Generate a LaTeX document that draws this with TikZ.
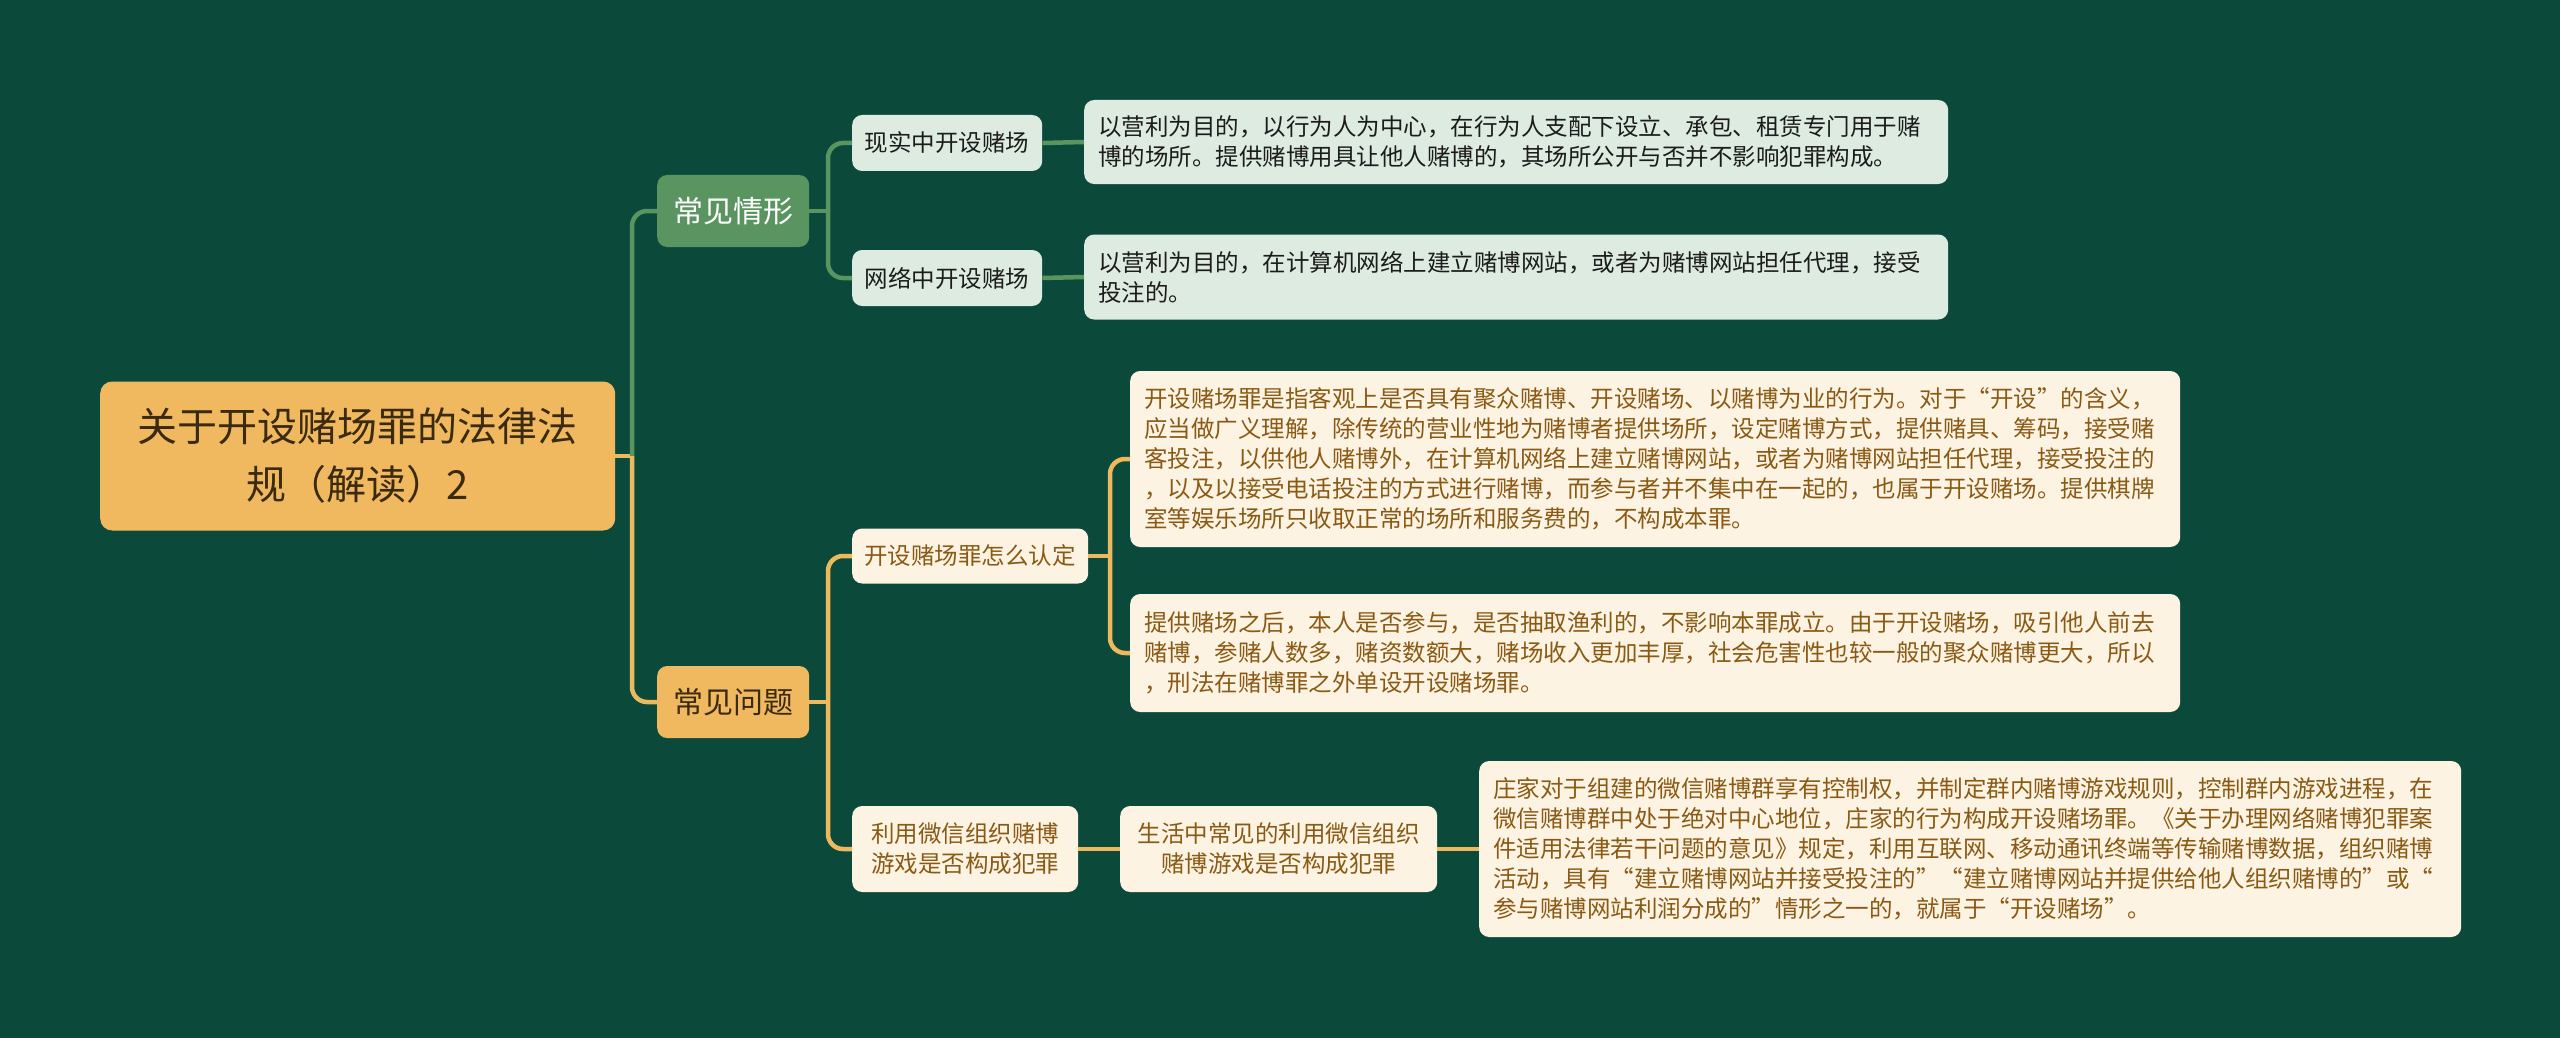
\documentclass[tikz,border=0pt]{standalone}
\usepackage{fontspec}
\newfontfamily\cjk{Noto Sans CJK SC}
\usetikzlibrary{positioning,calc}
\definecolor{bgdark}{HTML}{0B4A3B}
\definecolor{rootfill}{HTML}{F0B95F}
\definecolor{rootink}{HTML}{3A2A10}
\definecolor{greenfill}{HTML}{5A9460}
\definecolor{greenpale}{HTML}{DDEBE0}
\definecolor{greenink}{HTML}{1C1C1C}
\definecolor{creamfill}{HTML}{FCF3E3}
\definecolor{brownink}{HTML}{8A5A14}
\definecolor{goldline}{HTML}{EDB95E}
\tikzset{
  box/.style={anchor=west, rounded corners=10pt, inner sep=0pt},
  rootbox/.style={box, rounded corners=12pt, fill=rootfill, text=rootink,
    align=center, minimum width=515pt, minimum height=149pt,
    font=\cjk\fontsize{40}{58}\selectfont},
  % second level
  greentopic/.style={box, fill=greenfill, text=white, minimum width=152pt,
    minimum height=72pt, font=\cjk\fontsize{30}{36}\selectfont},
  goldtopic/.style={box, fill=rootfill, text=rootink, minimum width=152pt,
    minimum height=72pt, font=\cjk\fontsize{30}{36}\selectfont},
  % third level and leaves
  greenleaf/.style={box, fill=greenpale, text=greenink, align=center,
    font=\cjk\fontsize{23.5}{30}\selectfont},
  goldleaf/.style={box, fill=creamfill, text=brownink, align=center,
    font=\cjk\fontsize{23.5}{30}\selectfont},
  greentext/.style={greenleaf, align=left, inner xsep=14pt},
  goldtext/.style={goldleaf, align=left, inner xsep=14pt},
  greenlink/.style={draw=greenline, line width=4.5pt, rounded corners=15pt},
  goldlink/.style={draw=goldline, line width=4.5pt, rounded corners=15pt},
}
\colorlet{greenline}{greenfill}
\begin{document}
\begin{tikzpicture}[x=1pt, y=-1pt]
  \fill[bgdark] (0,0) rectangle (2560,1038);
  \useasboundingbox (0,0) rectangle (2560,1038);

  \node[rootbox] (root) at (100,456) {关于开设赌场罪的法律法\\规（解读）2};

  \node[greentopic] (qingxing) at (657,211) {常见情形};
  \node[goldtopic] (wenti) at (657,702) {常见问题};

  % upper branch
  \node[greenleaf, minimum width=190pt, minimum height=56pt] (xianshi)
    at (852,143) {现实中开设赌场};
  \node[greenleaf, minimum width=190pt, minimum height=56pt] (wangluo)
    at (852,278) {网络中开设赌场};
  \node[greentext, text width=836pt, minimum height=84pt] (xianshiTxt)
    at (1084,142) {以营利为目的，以行为人为中心，在行为人支配下设立、承包、租赁专门用于赌\\
    博的场所。提供赌博用具让他人赌博的，其场所公开与否并不影响犯罪构成。};
  \node[greentext, text width=836pt, minimum height=85pt] (wangluoTxt)
    at (1084,277) {以营利为目的，在计算机网络上建立赌博网站，或者为赌博网站担任代理，接受\\
    投注的。};

  % lower branch
  \node[goldleaf, minimum width=236pt, minimum height=55pt] (rending)
    at (852,556) {开设赌场罪怎么认定};
  \node[goldtext, text width=1022pt, minimum height=176pt] (rendingTxtA)
    at (1130,459) {开设赌场罪是指客观上是否具有聚众赌博、开设赌场、以赌博为业的行为。对于“开设”的含义，\\
    应当做广义理解，除传统的营业性地为赌博者提供场所，设定赌博方式，提供赌具、筹码，接受赌\\
    客投注，以供他人赌博外，在计算机网络上建立赌博网站，或者为赌博网站担任代理，接受投注的\\
    ，以及以接受电话投注的方式进行赌博，而参与者并不集中在一起的，也属于开设赌场。提供棋牌\\
    室等娱乐场所只收取正常的场所和服务费的，不构成本罪。};
  \node[goldtext, text width=1022pt, minimum height=118pt] (rendingTxtB)
    at (1130,653) {提供赌场之后，本人是否参与，是否抽取渔利的，不影响本罪成立。由于开设赌场，吸引他人前去\\
    赌博，参赌人数多，赌资数额大，赌场收入更加丰厚，社会危害性也较一般的聚众赌博更大，所以\\
    ，刑法在赌博罪之外单设开设赌场罪。};

  \node[goldleaf, minimum width=226pt, minimum height=86pt] (weixin)
    at (852,849) {利用微信组织赌博\\游戏是否构成犯罪};
  \node[goldleaf, minimum width=317pt, minimum height=86pt] (weixinSub)
    at (1120,849) {生活中常见的利用微信组织\\赌博游戏是否构成犯罪};
  \node[goldtext, text width=954pt, minimum height=176pt] (weixinTxt)
    at (1479,849) {庄家对于组建的微信赌博群享有控制权，并制定群内赌博游戏规则，控制群内游戏进程，在\\
    微信赌博群中处于绝对中心地位，庄家的行为构成开设赌场罪。《关于办理网络赌博犯罪案\\
    件适用法律若干问题的意见》规定，利用互联网、移动通讯终端等传输赌博数据，组织赌博\\
    活动，具有“建立赌博网站并接受投注的”“建立赌博网站并提供给他人组织赌博的”或“\\
    参与赌博网站利润分成的”情形之一的，就属于“开设赌场”。};

  % connectors
  \coordinate (hub) at (632,456);
  \coordinate (qxhub) at (828,211);
  \coordinate (wthub) at (828,702);
  \coordinate (rdhub) at (1110,556);

  \draw[goldlink] (root.east) -- (hub);
  \draw[greenlink] (hub) |- (qingxing.west);
  \draw[goldlink] (hub) |- (wenti.west);

  \draw[greenlink] (qingxing.east) -- (qxhub);
  \draw[greenlink] (qxhub) |- (xianshi.west);
  \draw[greenlink] (qxhub) |- (wangluo.west);
  \draw[greenlink] (xianshi.east) -- (xianshiTxt.west);
  \draw[greenlink] (wangluo.east) -- (wangluoTxt.west);

  \draw[goldlink] (wenti.east) -- (wthub);
  \draw[goldlink] (wthub) |- (rending.west);
  \draw[goldlink] (wthub) |- (weixin.west);
  \draw[goldlink] (rending.east) -- (rdhub);
  \draw[goldlink] (rdhub) |- (rendingTxtA.west);
  \draw[goldlink] (rdhub) |- (rendingTxtB.west);
  \draw[goldlink] (weixin.east) -- (weixinSub.west);
  \draw[goldlink] (weixinSub.east) -- (weixinTxt.west);
\end{tikzpicture}
\end{document}
